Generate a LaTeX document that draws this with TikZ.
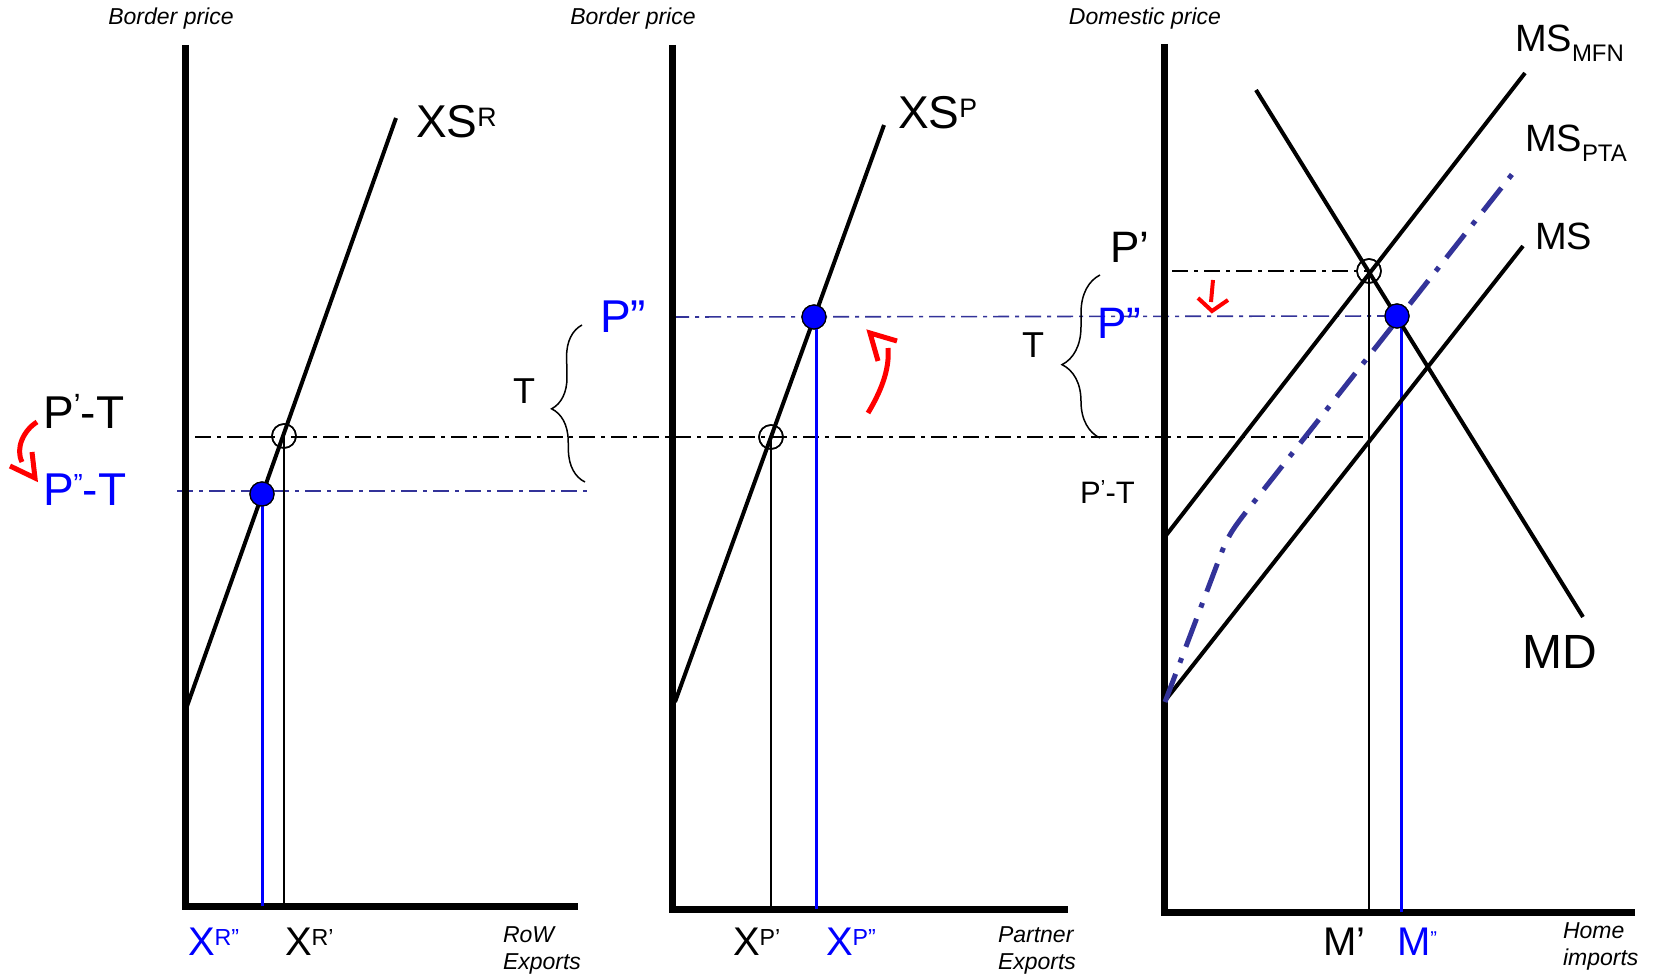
\documentclass[tikz,border=0pt]{standalone}
\usepackage{fontspec}
\setmainfont{Liberation Sans}
\usetikzlibrary{arrows.meta,decorations.pathreplacing}
\definecolor{navyb}{HTML}{333399}
\definecolor{pblue}{HTML}{0000FF}
\definecolor{pred}{HTML}{FF0000}
\newcommand\myfs[1]{\fontsize{#1}{#1}\selectfont}
\newcommand\sps[2][0.58]{\raisebox{0.25em}{\scalebox{#1}{#2}}}
\newcommand\sbs[1]{\raisebox{-0.26em}{\scalebox{0.63}{#1}}}
\begin{document}
\begin{tikzpicture}[x=1pt,y=-1pt,
  every node/.style={inner sep=0pt,outer sep=0pt},
  axisln/.style={line width=7pt,line join=miter},
  curveln/.style={line width=4pt},
  thinln/.style={line width=1.5pt},
  bvert/.style={pblue,line width=3pt},
  ddash/.style={line width=1.8pt,dash pattern=on 16pt off 6pt on 4pt off 6pt},
  bdash/.style={navyb,line width=1.6pt,dash pattern=on 16pt off 6pt on 4pt off 6pt},
  ptadash/.style={navyb,line width=5pt,dash pattern=on 30pt off 12pt on 5pt off 12pt},
  bdot/.style={circle,fill=pblue,draw=black,line width=1.2pt,minimum size=24pt},
  odot/.style={circle,draw=black,line width=1.5pt,minimum size=24pt},
  lbl/.style={anchor=base west,font=\myfs{46}},
  mlbl/.style={anchor=base west,font=\myfs{38}},
  ilbl/.style={anchor=north west,align=left,font=\fontsize{23}{27}\selectfont\itshape},
  brc/.style={line width=1.5pt,decorate},
  redarr/.style={pred,line width=5pt},
  redhead/.style={pred,line width=5pt,line join=miter}
]
\fill[white] (0,0) rectangle (1655,976);
\useasboundingbox (0,0) rectangle (1655,976);

% ---------- Panel 1 ----------
\coordinate (Y1) at (185,45);
\coordinate (X1) at (578,906);
\coordinate (xsr0) at (186,709);
\coordinate (xsr1) at (396,118);
\coordinate (h1a) at (195,437);
\coordinate (b1a) at (177,491);
\coordinate (b1b) at (590,491);
\node[odot] (c1) at (284,436) {};
\node[bdot] (d1) at (262,494) {};

% ---------- Panel 2 ----------
\coordinate (Y2) at (672,45);
\coordinate (X2) at (1068,909);
\coordinate (xsp0) at (675,702);
\coordinate (xsp1) at (884,125);
\coordinate (b2a) at (673,317);
\node[odot] (c2) at (771,437) {};
\node[bdot] (d2) at (814,317) {};

% ---------- Panel 3 ----------
\coordinate (Y3) at (1164,44);
\coordinate (X3) at (1635,912);
\coordinate (mfn0) at (1164,538);
\coordinate (mfn1) at (1525,73);
\coordinate (ms0) at (1164,702);
\coordinate (ms1) at (1523,246);
\coordinate (md0) at (1256,90);
\coordinate (md1) at (1583,617);
\coordinate (pta0) at (1165,702);
\coordinate (ptaj) at (1221,554);
\coordinate (ptak) at (1246,512);
\coordinate (pta1) at (1517,168);
\coordinate (h3a) at (1172,271);
\node[odot] (c3) at (1369,271) {};
\node[bdot] (d3) at (1397,316) {};

% dash-dot guide lines
\draw[ddash] (h1a) -- (h1a -| c3);
\draw[ddash] (h3a) -- (c3.center);
\draw[bdash] (b1a) -- (b1b);
\draw[bdash] (b2a) -- (d3.center);

% axes
\draw[axisln] (Y1) |- (X1);
\draw[axisln] (Y2) |- (X2);
\draw[axisln] (Y3) |- (X3);

% vertical drop lines
\draw[thinln] (c1.center) -- (c1.center |- X1);
\draw[bvert] (d1.center) -- (d1.center |- X1);
\draw[thinln] (c2.center) -- (c2.center |- X2);
\draw[bvert] ([xshift=2pt]d2.center) -- ([xshift=2pt]d2.center |- X2);
\draw[thinln] (c3.center) -- (c3.center |- X3);
\draw[bvert] ([xshift=4pt]d3.center) -- ([xshift=4pt]d3.center |- X3);

% curves
\draw[curveln] (xsr0) -- (xsr1);
\draw[curveln] (xsp0) -- (xsp1);
\draw[curveln] (mfn0) -- (mfn1);
\draw[curveln] (ms0) -- (ms1);
\draw[curveln] (md0) -- (md1);
\draw[ptadash] (pta0) -- (ptaj) .. controls (1227,538) and (1232,530) .. (ptak) -- (pta1);

% points
\node[odot] at (c1) {};
\node[odot] at (c2) {};
\node[odot] at (c3) {};
\node[bdot] at (d1) {};
\node[bdot] at (d2) {};
\node[bdot] at (d3) {};

% braces
\draw[brc,decoration={brace,amplitude=32pt,aspect=0.47}] (585,482) -- (582,325);
\draw[brc,decoration={brace,amplitude=38pt,aspect=0.45}] (1100,438) -- (1100,275);

% red arrows (shaft + open V head)
\coordinate (r1a) at (37,422);
\coordinate (r1b) at (22,462);
\coordinate (r1t) at (35,478);
\draw[redarr] (r1a) .. controls (24,430) and (15,448) .. (r1b);
\draw[redhead] (10,466) -- (r1t) -- (32,452);
\coordinate (r2a) at (868,413);
\coordinate (r2b) at (888,348);
\coordinate (r2t) at (870,333);
\draw[redarr] (r2a) .. controls (880,393) and (890,370) .. (r2b);
\draw[redhead] (878,361) -- (r2t) -- (897,341);
\coordinate (r3a) at (1213,280);
\coordinate (r3b) at (1211,302);
\coordinate (r3t) at (1212,311);
\draw[redarr,line width=4pt] (r3a) -- (r3b);
\draw[redhead,line width=4pt] (1198,298) -- (r3t) -- (1228,300);

% axis titles
\node[anchor=base,font=\myfs{23}\itshape] (bp1) at (171,25) {Border price};
\node[anchor=base,font=\myfs{23}\itshape] (bp2) at (633,25) {Border price};
\node[anchor=base,font=\myfs{23}\itshape] (dp3) at (1145,25) {Domestic price};

% curve labels
\node[lbl] (lxsr) at (416,138) {XS\sps{R}};
\node[lbl] (lxsp) at (898,129) {XS\sps{P}};
\node[mlbl] (lmfn) at (1515,52) {MS\sbs{MFN}};
\node[mlbl] (lpta) at (1525,152) {MS\sbs{PTA}};
\node[mlbl] (lms) at (1535,250) {MS};
\node[lbl,font=\myfs{48}] (lmd) at (1522,668) {MD};

% price labels
\node[lbl] (p1a) at (43,428) {P\sps[0.7]{’}-T};
\node[lbl,pblue] (p1b) at (43,505) {P\sps[0.6]{”}-T};
\node[lbl,font=\myfs{36}] (t2) at (513,403) {T};
\node[lbl,pblue] (p2b) at (600,333) {P”};
\node[lbl,font=\myfs{44}] (p3a) at (1110,263) {P’};
\node[lbl,font=\myfs{44},pblue] (p3b) at (1097,338) {P”};
\node[lbl,font=\myfs{36}] (t3) at (1022,358) {T};
\node[lbl,font=\myfs{31}] (p3c) at (1080,503) {P\sps[0.7]{’}-T};

% quantity labels
\node[lbl,font=\myfs{40},pblue] (xr2) at (188,955) {X\sps{R”}};
\node[lbl,font=\myfs{40}] (xr1) at (285,955) {X\sps{R’}};
\node[lbl,font=\myfs{40}] (xp1) at (733,955) {X\sps{P’}};
\node[lbl,font=\myfs{40},pblue] (xp2) at (826,955) {X\sps{P”}};
\node[lbl,font=\myfs{40}] (m1) at (1323,955) {M’};
\node[lbl,font=\myfs{40},pblue] (m2) at (1397,955) {M\sps[0.5]{”}};

% axis captions
\node[ilbl] (cap1) at (503,927) {RoW\\Exports};
\node[ilbl] (cap2) at (998,927) {Partner\\Exports};
\node[ilbl] (cap3) at (1563,923) {Home\\imports};
\end{tikzpicture}
\end{document}
